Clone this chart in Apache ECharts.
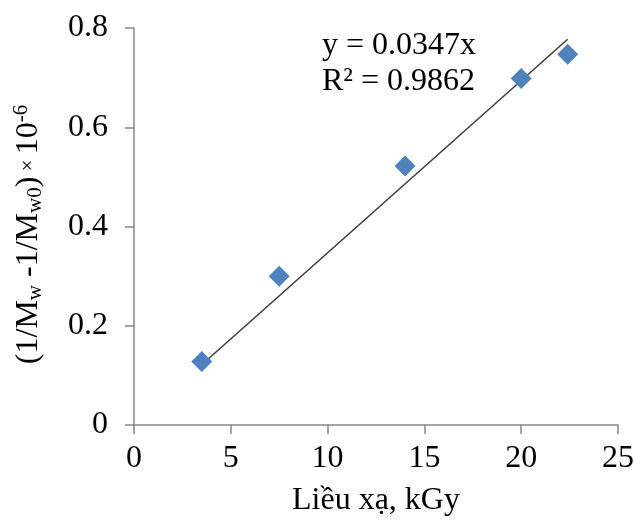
<!DOCTYPE html>
<html><head><meta charset="utf-8">
<script src="https://cdn.jsdelivr.net/npm/echarts@6/dist/echarts.min.js"></script>
<style>html,body{margin:0;padding:0;background:#fff}#c{width:637px;height:522px}</style>
</head><body><div id="c"></div>
<script>
const doses = [3.5, 7.5, 14.0, 20.0, 22.4];
const values = [0.128, 0.300, 0.522, 0.698, 0.747];
const slope = 0.0347;
const eqLabel = 'y = 0.0347x';
const r2Label = 'R² = 0.9862';
const xTicks = [0, 5, 10, 15, 20, 25];
const yTicks = [0, 0.2, 0.4, 0.6, 0.8];

const xMin = Math.min(...doses), xMax = Math.max(...doses);
const trend = [[xMin, slope * xMin], [xMax, slope * xMax]];
const font = 'Liberation Serif';
const chart = echarts.init(document.getElementById('c'));
chart.setOption({
  animation: false,
  grid: {left: 134, right: 18, top: 28, bottom: 97},
  xAxis: {
    type: 'value', min: xTicks[0], max: xTicks[xTicks.length - 1], interval: 5,
    axisLine: {lineStyle: {color: '#868686', width: 1.5}},
    axisTick: {show: true, length: 9, lineStyle: {color: '#868686', width: 1.5}},
    splitLine: {show: false},
    axisLabel: {fontFamily: font, fontSize: 32, color: '#000', margin: 18},
    name: 'Liều xạ, kGy', nameLocation: 'middle', nameGap: 60,
    nameTextStyle: {fontFamily: font, fontSize: 32, color: '#000'}
  },
  yAxis: {
    type: 'value', min: yTicks[0], max: yTicks[yTicks.length - 1], interval: 0.2,
    axisLine: {show: true, lineStyle: {color: '#868686', width: 1.5}},
    axisTick: {show: true, length: 9, lineStyle: {color: '#868686', width: 1.5}},
    splitLine: {show: false},
    axisLabel: {fontFamily: font, fontSize: 32, color: '#000', margin: 26,
      formatter: v => (v === 0 ? '0' : v.toFixed(1))},
    name: '{a|(1/M}{s|w}{a| -1/M}{s|w0}{a|)}{x| × }{a|10}{p|-6}',
    nameLocation: 'middle', nameGap: 88, nameRotate: 90,
    nameTextStyle: {
      fontFamily: font, color: '#000', padding: [0, 16, 0, 0],
      rich: {
        a: {fontFamily: font, fontSize: 32, color: '#000'},
        s: {fontFamily: font, fontSize: 21, color: '#000', verticalAlign: 'bottom', padding: [12, 0, 0, 0]},
        x: {fontFamily: font, fontSize: 21, color: '#000'},
        p: {fontFamily: font, fontSize: 21, color: '#000', verticalAlign: 'top', padding: [0, 0, 14, 0]}
      }
    }
  },
  series: [
    {type: 'line', data: trend, symbol: 'none', silent: true,
     lineStyle: {color: '#3a3a3a', width: 1.5}, z: 2},
    {type: 'scatter', data: doses.map((d, i) => [d, values[i]]),
     symbol: 'diamond', symbolSize: 21, itemStyle: {color: '#4F81BD', opacity: 1}, z: 3}
  ],
  graphic: [
    {type: 'text', left: 322, top: 30, style: {text: eqLabel, fontFamily: font, fontSize: 32, fill: '#000'}},
    {type: 'text', left: 322, top: 66, style: {text: r2Label, fontFamily: font, fontSize: 32, fill: '#000'}}
  ]
});
</script></body></html>
